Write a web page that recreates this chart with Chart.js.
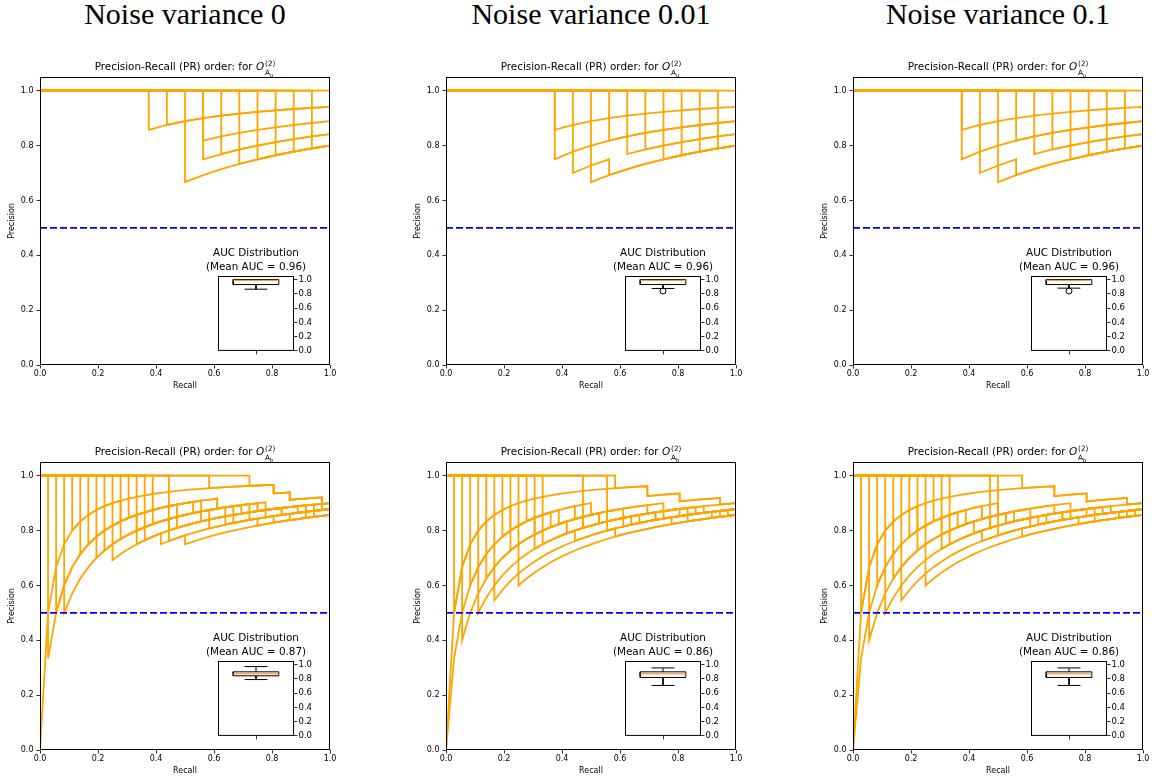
<!DOCTYPE html>
<html>
<head>
<meta charset="utf-8">
<script src="https://cdn.jsdelivr.net/npm/chart.js@4.4.0/dist/chart.umd.min.js"></script>
<style>
  html, body { margin: 0; padding: 0; background: #fff; }
  body { width: 1156px; height: 782px; position: relative; overflow: hidden; }
  canvas { position: absolute; }
  .heading {
    position: absolute; top: -1px; width: 290px;
    font-family: "Liberation Serif", "DejaVu Serif", serif;
    font-size: 30px; line-height: 30px; text-align: center; color: #000; white-space: nowrap;
  }
</style>
</head>
<body>
<script>
// --- data ---
const noiseLevels = ['0', '0.01', '0.1'];
const topPositives = 16;      // relevant items per ranking, top row
const bottomPositives = 36;   // relevant items per ranking, bottom row
const recallTicks = [0, 0.2, 0.4, 0.6, 0.8, 1.0];
const precisionTicks = [0, 0.2, 0.4, 0.6, 0.8, 1.0];
const aucTicks = [0, 0.2, 0.4, 0.6, 0.8, 1.0];
const baselinePrecision = 0.5;

// each ranking: [hits found so far, false positives inserted at that point]
const rankingsAuNoise0 = [
  [[6, 1]], [[7, 1]], [[8, 4]], [[9, 2]], [[9, 3]], [[10, 3]],
  [[11, 4]], [[12, 4]], [[13, 4]], [[14, 4]], [[15, 4]], [[16, 4]]
];
const rankingsAuNoise001 = [
  [[6, 1]], [[6, 2]], [[7, 3], [9, 1]], [[8, 4]], [[9, 2]], [[10, 3]],
  [[11, 3]], [[12, 4]], [[13, 4]], [[14, 4]], [[15, 4]], [[16, 4]]
];
const rankingsAuNoise01 = [
  [[6, 1]], [[6, 2]], [[7, 3], [9, 1]], [[8, 4]], [[9, 2]], [[10, 3]],
  [[11, 3]], [[12, 4]], [[13, 4]], [[14, 4]], [[15, 4]], [[16, 4]]
];
const rankingsAbNoise0 = [
  [[0, 1], [29, 1], [31, 1], [35, 1]],
  [[1, 2], [20, 1], [27, 1], [33, 1]],
  [[2, 2], [12, 1], [24, 1], [30, 1]],
  [[3, 3], [17, 1], [26, 1], [34, 1]],
  [[4, 1], [10, 1], [22, 1], [28, 1]],
  [[5, 2], [14, 1], [25, 1], [32, 1]],
  [[6, 2], [19, 1], [23, 1], [34, 1]],
  [[7, 3], [16, 1], [23, 1], [31, 1]],
  [[8, 3], [13, 1], [21, 1], [29, 1]],
  [[9, 4], [15, 1], [18, 1]],
  [[10, 3], [21, 1], [30, 1]],
  [[11, 2], [17, 1], [26, 1], [33, 1]],
  [[12, 4], [24, 1], [33, 1]],
  [[13, 3], [20, 1], [28, 1]],
  [[14, 2], [22, 1], [27, 1], [35, 1]],
  [[16, 5], [27, 1]],
  [[21, 1], [29, 1], [31, 1], [35, 1]],
  [[26, 1], [29, 1], [31, 1], [35, 1]]
];
const rankingsAbNoise001 = [
  [[0, 1], [25, 1], [29, 1], [34, 1]],
  [[0, 2], [13, 1], [22, 1], [31, 1]],
  [[1, 1], [8, 1], [18, 1], [27, 1]],
  [[2, 3], [15, 1], [24, 1]],
  [[3, 2], [11, 1], [19, 1], [30, 1], [35, 1]],
  [[4, 4], [16, 1], [28, 1]],
  [[5, 3], [12, 1], [26, 1]],
  [[6, 5], [21, 1]],
  [[7, 2], [14, 1], [20, 1], [32, 1]],
  [[8, 3], [17, 1], [23, 1], [33, 1]],
  [[9, 6]],
  [[10, 2], [16, 1], [25, 1], [29, 1]],
  [[11, 4], [22, 1]],
  [[12, 3], [19, 1], [27, 1], [34, 1]],
  [[17, 4], [26, 1]],
  [[20, 5], [30, 1]],
  [[21, 1], [25, 1], [29, 1], [34, 1]]
];
const rankingsAbNoise01 = [
  [[0, 1], [25, 1], [29, 1], [34, 1]],
  [[0, 2], [14, 1], [22, 1], [31, 1]],
  [[1, 1], [8, 1], [18, 1], [27, 1]],
  [[2, 3], [15, 1], [24, 1]],
  [[3, 2], [11, 1], [19, 1], [30, 1], [35, 1]],
  [[4, 4], [16, 1], [28, 1]],
  [[5, 3], [12, 1], [26, 1]],
  [[6, 5], [21, 1]],
  [[7, 2], [13, 1], [20, 1], [32, 1]],
  [[8, 3], [17, 1], [23, 1], [33, 1]],
  [[9, 6]],
  [[10, 2], [16, 1], [25, 1], [29, 1]],
  [[11, 4], [22, 1]],
  [[12, 3], [19, 1], [27, 1], [34, 1]],
  [[17, 4], [26, 1]],
  [[18, 5], [30, 1]],
  [[21, 1], [25, 1], [29, 1], [34, 1]]
];

// AUC box plots: [lower whisker, q1, median, q3, upper whisker]
const aucBoxAuNoise0 = [0.865, 0.93, 0.99, 1.0, 1.0];
const aucBoxAuNoise001 = [0.875, 0.93, 0.99, 1.0, 1.0];
const aucBoxAuNoise01 = [0.88, 0.93, 0.99, 1.0, 1.0];
const aucBoxAbNoise0 = [0.79, 0.842, 0.87, 0.898, 0.972];
const aucBoxAbNoise001 = [0.707, 0.819, 0.87, 0.898, 0.953];
const aucBoxAbNoise01 = [0.707, 0.819, 0.87, 0.898, 0.953];
const aucOutliersAuNoise0 = [];
const aucOutliersAuNoise001 = [0.84];
const aucOutliersAuNoise01 = [0.84];
const aucOutliersAbNoise0 = [];
const aucOutliersAbNoise001 = [];
const aucOutliersAbNoise01 = [];
const meanAucAu = ['0.96', '0.96', '0.96'];
const meanAucAb = ['0.87', '0.86', '0.86'];

// --- layout ---
const plotWidth = 290, plotHeight = 288;
const columnLeft = [40, 446, 853];
const rowTop = [77, 462];
const insetLeft = [218, 625, 1031];
const insetTop = [276, 661];
const insetWidth = 76, insetHeight = 75;
const axisSpace = 36, titleSpace = 28, xAxisSpace = 28, rightSpace = 10;
const ORANGE = '#FFA500';
const FONT = 'DejaVu Sans';

Chart.defaults.font.family = FONT;
Chart.defaults.color = '#000';

// precision / recall points of one ranking
function prCurve(events, positives) {
  const fpAt = {};
  events.forEach(([k, f]) => { fpAt[k] = (fpAt[k] || 0) + f; });
  const pts = [{ x: 0, y: 1 }];
  let fp = 0;
  for (let k = 0; k <= positives; k++) {
    for (let j = 0; j < (fpAt[k] || 0); j++) {
      fp++;
      pts.push({ x: k / positives, y: k / (k + fp) });
    }
    if (k < positives) pts.push({ x: (k + 1) / positives, y: (k + 1) / (k + 1 + fp) });
  }
  return pts;
}

function makeCanvas(left, top, w, h) {
  const c = document.createElement('canvas');
  c.width = w; c.height = h;
  c.style.left = left + 'px'; c.style.top = top + 'px';
  c.style.width = w + 'px'; c.style.height = h + 'px';
  document.body.appendChild(c);
  return c;
}

function frameRect(chart) {
  const a = chart.chartArea, ctx = chart.ctx;
  ctx.save();
  ctx.strokeStyle = '#000';
  ctx.lineWidth = 1;
  ctx.strokeRect(a.left + 0.5, a.top + 0.5, a.right - a.left - 1, a.bottom - a.top - 1);
  ctx.restore();
}

// title with O^{(2)}_{A_x}
function drawPanelTitle(chart, sub) {
  const ctx = chart.ctx, a = chart.chartArea;
  const fs = 10.4;
  const base = a.top - 7;
  const lead = 'Precision-Recall (PR) order: for ';
  ctx.save();
  ctx.fillStyle = '#000';
  ctx.textAlign = 'left';
  ctx.textBaseline = 'alphabetic';
  ctx.font = `${fs}px "${FONT}"`;
  const wLead = ctx.measureText(lead).width;
  ctx.font = `italic ${fs}px "${FONT}"`;
  const wO = ctx.measureText('O').width;
  ctx.font = `${fs * 0.7}px "${FONT}"`;
  const wSup = ctx.measureText('(2)').width;
  const wA = ctx.measureText('A').width;
  ctx.font = `${fs * 0.5}px "${FONT}"`;
  const wU = ctx.measureText(sub).width;
  const total = wLead + wO + 1 + Math.max(wSup, wA + wU);
  let x = (a.left + a.right) / 2 - total / 2;
  ctx.font = `${fs}px "${FONT}"`;
  ctx.fillText(lead, x, base);
  x += wLead;
  ctx.font = `italic ${fs}px "${FONT}"`;
  ctx.fillText('O', x, base);
  x += wO + 1;
  ctx.font = `${fs * 0.7}px "${FONT}"`;
  ctx.fillText('(2)', x, base - fs * 0.42);
  ctx.fillText('A', x, base + fs * 0.45);
  ctx.font = `${fs * 0.5}px "${FONT}"`;
  ctx.fillText(sub, x + wA, base + fs * 0.7);
  ctx.restore();
}

function buildPanel(col, row, rankings, positives, sub) {
  const w = axisSpace + plotWidth + rightSpace;
  const h = titleSpace + plotHeight + xAxisSpace;
  const canvas = makeCanvas(columnLeft[col] - axisSpace, rowTop[row] - titleSpace, w, h);

  const datasets = [{
    data: [{ x: 0, y: baselinePrecision }, { x: 1, y: baselinePrecision }],
    borderColor: '#0000FF', borderWidth: 1.8, borderDash: [7, 3]
  }];
  rankings.forEach(ev => datasets.push({
    data: prCurve(ev, positives), borderColor: ORANGE, borderWidth: 1.8
  }));

  const tickFont = { family: FONT, size: 8 };
  new Chart(canvas, {
    type: 'line',
    data: { datasets },
    options: {
      responsive: false, animation: false, devicePixelRatio: 1,
      layout: { padding: { top: titleSpace, right: rightSpace, left: 0, bottom: 0 } },
      plugins: { legend: { display: false }, tooltip: { enabled: false } },
      elements: { point: { radius: 0 }, line: { tension: 0 } },
      scales: {
        x: {
          type: 'linear', min: 0, max: 1,
          afterBuildTicks: s => { s.ticks = recallTicks.map(v => ({ value: v })); },
          afterFit: s => { s.height = xAxisSpace; },
          ticks: { callback: v => v.toFixed(1), font: tickFont, color: '#000', padding: 1, maxRotation: 0, autoSkip: false },
          grid: { drawOnChartArea: false, drawTicks: true, tickLength: 3.5, color: '#000', lineWidth: 0.8 },
          border: { display: false },
          title: { display: true, text: 'Recall', font: tickFont, color: '#000', padding: { top: 0, bottom: 2 } }
        },
        y: {
          type: 'linear', min: 0, max: 1.05,
          afterBuildTicks: s => { s.ticks = precisionTicks.map(v => ({ value: v })); },
          afterFit: s => { s.width = axisSpace; },
          ticks: { callback: v => v.toFixed(1), font: tickFont, color: '#000', padding: 3, autoSkip: false },
          grid: { drawOnChartArea: false, drawTicks: true, tickLength: 3.5, color: '#000', lineWidth: 0.8 },
          border: { display: false },
          title: { display: true, text: 'Precision', font: tickFont, color: '#000', padding: { top: 3, bottom: 0 } }
        }
      }
    },
    plugins: [{
      id: 'panelDecor',
      afterDraw: chart => { frameRect(chart); drawPanelTitle(chart, sub); }
    }]
  });
}

function buildInset(col, row, box, outliers, mean) {
  const padLeft = 30, padTop = 36, rightAxis = 30, bottomAxis = 6;
  const canvas = makeCanvas(insetLeft[col] - padLeft, insetTop[row] - padTop,
    padLeft + insetWidth + rightAxis, padTop + insetHeight + bottomAxis);
  const [lo, q1, med, q3, hi] = box;
  const line = (pts, color) => ({ data: pts, borderColor: color || '#000', borderWidth: 1 });
  const datasets = [
    line([{ x: 0.7, y: med }, { x: 1.3, y: med }], '#FF7F0E'),
    line([{ x: 0.7, y: q1 }, { x: 1.3, y: q1 }, { x: 1.3, y: q3 }, { x: 0.7, y: q3 }, { x: 0.7, y: q1 }]),
    line([{ x: 1, y: q1 }, { x: 1, y: lo }]),
    line([{ x: 1, y: q3 }, { x: 1, y: hi }]),
    line([{ x: 0.85, y: lo }, { x: 1.15, y: lo }]),
    line([{ x: 0.85, y: hi }, { x: 1.15, y: hi }]),
    {
      data: outliers.map(v => ({ x: 1, y: v })), showLine: false,
      pointRadius: 3, pointBorderColor: '#000', pointBackgroundColor: 'rgba(0,0,0,0)', pointBorderWidth: 1
    }
  ];
  new Chart(canvas, {
    type: 'line',
    data: { datasets },
    options: {
      responsive: false, animation: false, devicePixelRatio: 1,
      layout: { padding: { top: padTop, left: padLeft, right: 0, bottom: 0 } },
      plugins: { legend: { display: false }, tooltip: { enabled: false } },
      elements: { point: { radius: 0 }, line: { tension: 0 } },
      scales: {
        x: {
          type: 'linear', min: 0.5, max: 1.5,
          afterBuildTicks: s => { s.ticks = [{ value: 1 }]; },
          afterFit: s => { s.height = bottomAxis; },
          ticks: { display: false },
          grid: { drawOnChartArea: false, drawTicks: true, tickLength: 3.5, color: '#000', lineWidth: 0.8 },
          border: { display: false }
        },
        y: {
          type: 'linear', position: 'right', min: 0, max: 1.05,
          afterBuildTicks: s => { s.ticks = aucTicks.map(v => ({ value: v })); },
          afterFit: s => { s.width = rightAxis; },
          ticks: { callback: v => v.toFixed(1), font: { family: FONT, size: 8.5 }, color: '#000', padding: 1, autoSkip: false },
          grid: { drawOnChartArea: false, drawTicks: true, tickLength: 3.5, color: '#000', lineWidth: 0.8 },
          border: { display: false }
        }
      }
    },
    plugins: [{
      id: 'insetDecor',
      afterDraw: chart => {
        frameRect(chart);
        const ctx = chart.ctx, a = chart.chartArea;
        const cx = (a.left + a.right) / 2;
        ctx.save();
        ctx.fillStyle = '#000';
        ctx.font = `10.4px "${FONT}"`;
        ctx.textAlign = 'center';
        ctx.textBaseline = 'middle';
        ctx.fillText('AUC Distribution', cx, a.top - 22.5);
        ctx.fillText(`(Mean AUC = ${mean})`, cx, a.top - 8.5);
        ctx.restore();
      }
    }]
  });
}

noiseLevels.forEach((lvl, i) => {
  const d = document.createElement('div');
  d.className = 'heading';
  d.style.left = columnLeft[i] + 'px';
  d.textContent = 'Noise variance ' + lvl;
  document.body.appendChild(d);
});

buildPanel(0, 0, rankingsAuNoise0, topPositives, 'u');
buildPanel(1, 0, rankingsAuNoise001, topPositives, 'u');
buildPanel(2, 0, rankingsAuNoise01, topPositives, 'u');
buildPanel(0, 1, rankingsAbNoise0, bottomPositives, 'b');
buildPanel(1, 1, rankingsAbNoise001, bottomPositives, 'b');
buildPanel(2, 1, rankingsAbNoise01, bottomPositives, 'b');

buildInset(0, 0, aucBoxAuNoise0, aucOutliersAuNoise0, meanAucAu[0]);
buildInset(1, 0, aucBoxAuNoise001, aucOutliersAuNoise001, meanAucAu[1]);
buildInset(2, 0, aucBoxAuNoise01, aucOutliersAuNoise01, meanAucAu[2]);
buildInset(0, 1, aucBoxAbNoise0, aucOutliersAbNoise0, meanAucAb[0]);
buildInset(1, 1, aucBoxAbNoise001, aucOutliersAbNoise001, meanAucAb[1]);
buildInset(2, 1, aucBoxAbNoise01, aucOutliersAbNoise01, meanAucAb[2]);
</script>
</body>
</html>
